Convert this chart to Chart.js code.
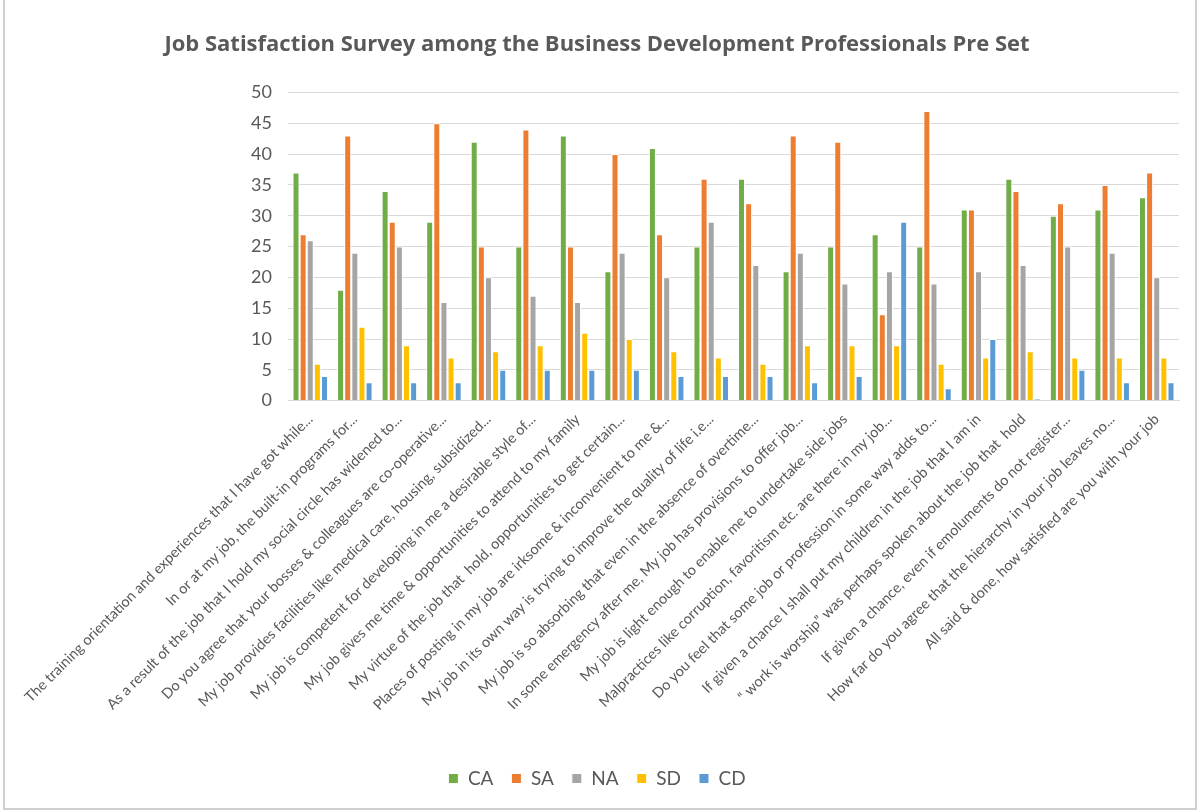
<!DOCTYPE html>
<html lang="en">
<head>
<meta charset="UTF-8">
<title>Job Satisfaction Survey</title>
<script src="https://cdn.jsdelivr.net/npm/chart.js@4.4.1/dist/chart.umd.min.js"></script>
<style>
  html, body { margin: 0; padding: 0; background: #fff; }
  .frame {
    position: absolute; left: 3px; top: -2px; width: 1190px; height: 808px;
    border: 2px solid #cfcfcf; background: #fff;
  }
  .frame canvas { display: block; }
</style>
</head>
<body>
<div class="frame"><canvas id="chart" width="1190" height="808"></canvas></div>
<script>
// survey questions (truncated as they appear on the axis)
const questions = [
  'The training orientation and experiences that I have got while...',
  'In or at my job, the built-in programs for...',
  'As a result of the job that I hold my social circle has widened to...',
  'Do you agree that your bosses & colleagues are co-operative...',
  'My job provides facilities like medical care, housing, subsidized...',
  'My job is competent for developing in me a desirable style of...',
  'My job gives me time & opportunities to attend to my family',
  'My virtue of the job that  hold, opportunities to get certain...',
  'Places of posting in my job are irksome & inconvenient to me &...',
  'My job in its own way is trying to improve the quality of life i.e...',
  'My job is so absorbing that even in the absence of overtime...',
  'In some emergency after me, My job has provisions to offer job...',
  'My job is light enough to enable me to undertake side jobs',
  'Malpractices like corruption, favoritism etc. are there in my job...',
  'Do you feel that some job or profession in some way adds to...',
  'If given a chance I shall put my children in the job that I am in',
  '\u201C work is worship\u201D was perhaps spoken about the job that  hold',
  'If given a chance, even if emoluments do not register...',
  'How far do you agree that the hierarchy in your job leaves no...',
  'All said & done, how satisfied are you with your job'
];

// response counts per question
const ca = [37, 18, 34, 29, 42, 25, 43, 21, 41, 25, 36, 21, 25, 27, 25, 31, 36, 30, 31, 33];
const sa = [27, 43, 29, 45, 25, 44, 25, 40, 27, 36, 32, 43, 42, 14, 47, 31, 34, 32, 35, 37];
const na = [26, 24, 25, 16, 20, 17, 16, 24, 20, 29, 22, 24, 19, 21, 19, 21, 22, 25, 24, 20];
const sd = [6, 12, 9, 7, 8, 9, 11, 10, 8, 7, 6, 9, 9, 9, 6, 7, 8, 7, 7, 7];
const cd = [4, 3, 3, 3, 5, 5, 5, 5, 4, 4, 4, 3, 4, 29, 2, 10, 0.3, 5, 3, 3];

const seriesNames = ['CA', 'SA', 'NA', 'SD', 'CD'];
const seriesColors = ['#70ad47', '#ed7d31', '#a5a5a5', '#ffc000', '#5b9bd5'];
const seriesData = [ca, sa, na, sd, cd];

const textColor = '#595959';
const font = 'Lato, "Open Sans", sans-serif';

new Chart(document.getElementById('chart'), {
  type: 'bar',
  data: {
    labels: questions,
    datasets: seriesNames.map((name, i) => ({
      label: name,
      data: seriesData[i],
      backgroundColor: seriesColors[i],
      borderColor: '#ffffff',
      borderWidth: 1,
      borderSkipped: 'bottom',
      categoryPercentage: 0.8,
      barPercentage: 0.98
    }))
  },
  options: {
    responsive: false,
    animation: false,
    layout: { padding: { left: 10, right: 16, top: 24, bottom: 10 } },
    plugins: {
      title: {
        display: true,
        text: 'Job Satisfaction Survey among the Business Development Professionals Pre Set',
        color: textColor,
        font: { family: '"Open Sans", sans-serif', size: 22, weight: 'bold' },
        padding: { top: 8, bottom: 34 }
      },
      legend: {
        position: 'bottom',
        // empty title only adds space between the axis labels and the legend
        title: { display: true, text: '', font: { size: 1 }, padding: { top: 34, bottom: 0 } },
        labels: {
          color: textColor,
          font: { family: font, size: 19 },
          boxWidth: 10,
          boxHeight: 10,
          padding: 18
        }
      },
      tooltip: { enabled: false }
    },
    scales: {
      x: {
        grid: { display: false },
        border: { color: '#d9d9d9' },
        ticks: {
          color: textColor,
          font: { family: font, size: 14.5 },
          autoSkip: false,
          minRotation: 45,
          maxRotation: 45,
          padding: 2
        }
      },
      y: {
        min: 0,
        max: 50,
        // wide axis box so the long rotated first label has room on the left
        afterFit: scale => { scale.width = 273; },
        ticks: {
          stepSize: 5,
          color: textColor,
          font: { family: font, size: 18 },
          padding: 16
        },
        grid: { color: '#d9d9d9', drawTicks: false },
        border: { display: false }
      }
    }
  }
});
</script>
</body>
</html>
